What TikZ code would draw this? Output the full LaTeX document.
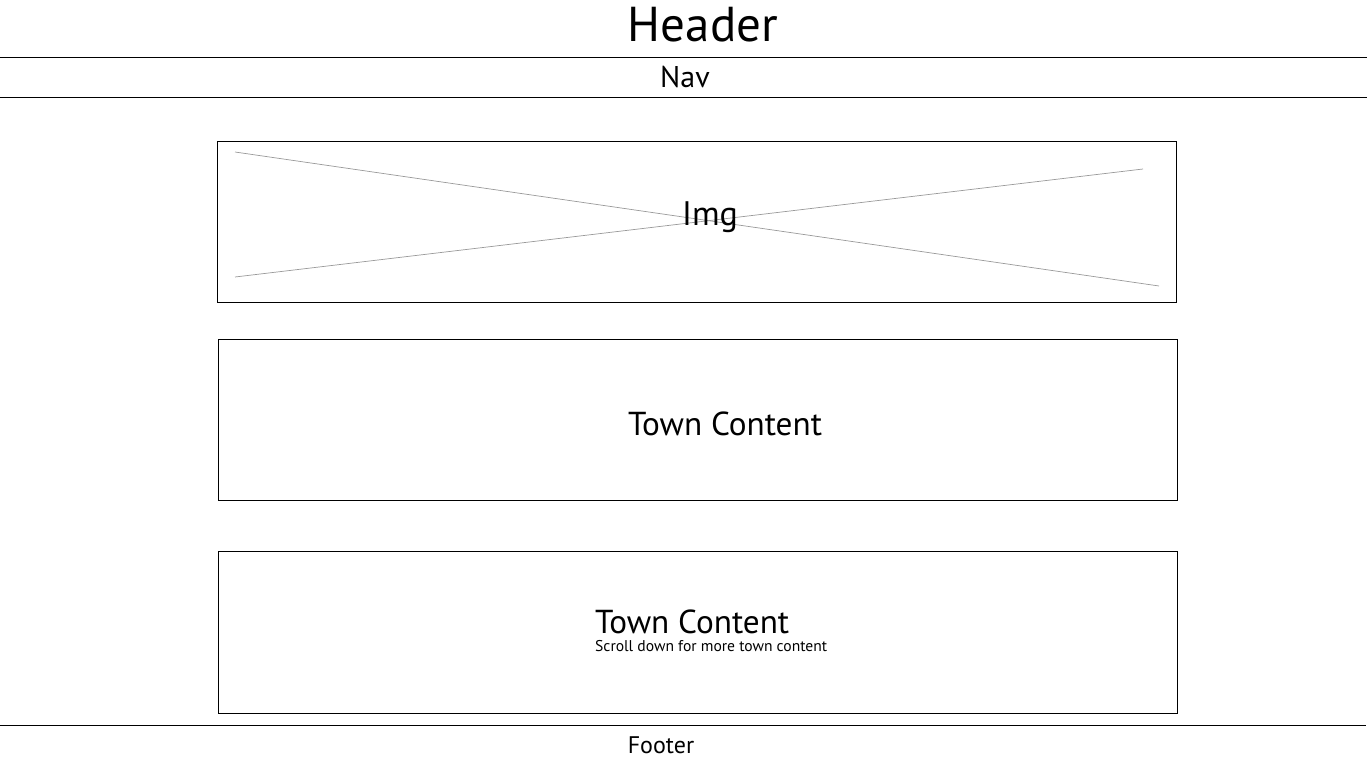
\documentclass[tikz,border=0pt]{standalone}
\usepackage{fontspec}
\setmainfont{PT Sans}
\begin{document}
\begin{tikzpicture}[x=1pt,y=-1pt,
  rule/.style={draw=black,line width=1pt},
  panel/.style={draw=black,line width=1pt,inner sep=0pt},
  cross/.style={draw=black!40,line width=0.7pt},
  lbl/.style={inner sep=0pt,anchor=base}]
\useasboundingbox (0,0) rectangle (1367,759);
% rules
\coordinate (h1) at (0,57.5); \coordinate (h2) at (1367,57.5);
\coordinate (n1) at (0,97.5); \coordinate (n2) at (1367,97.5);
\coordinate (f1) at (0,725.5); \coordinate (f2) at (1366,725.5);
\draw[rule] (h1) -- (h2);
\draw[rule] (n1) -- (n2);
\draw[rule] (f1) -- (f2);
% panels
\draw[panel] (217.5,141.5) rectangle (1176.5,302.5);
\draw[panel] (218.5,339.5) rectangle (1177.5,500.5);
\draw[panel] (218.5,551.5) rectangle (1177.5,713.5);
% image cross
\coordinate (c1) at (235,152); \coordinate (c2) at (1159,286);
\coordinate (c3) at (235,277); \coordinate (c4) at (1143,169);
\draw[cross] (c1) -- (c2);
\draw[cross] (c3) -- (c4);
% labels
\node[lbl,font=\fontsize{49}{58}\selectfont] (header) at (703,42) {Header};
\node[lbl,font=\fontsize{30}{36}\selectfont] (nav) at (685,88) {Nav};
\node[lbl,font=\fontsize{34}{40}\selectfont] (img) at (710,226) {Img};
\node[lbl,font=\fontsize{33.2}{40}\selectfont] (tc1) at (725,435) {Town Content};
\node[lbl,anchor=base west,font=\fontsize{33.2}{40}\selectfont] (tc2) at (595,633) {Town Content};
\node[lbl,anchor=base west,font=\fontsize{15.6}{19}\selectfont] (scroll) at (595,651) {Scroll down for more town content};
\node[lbl,font=\fontsize{24}{28}\selectfont] (footer) at (661,753) {Footer};
\end{tikzpicture}
\end{document}
